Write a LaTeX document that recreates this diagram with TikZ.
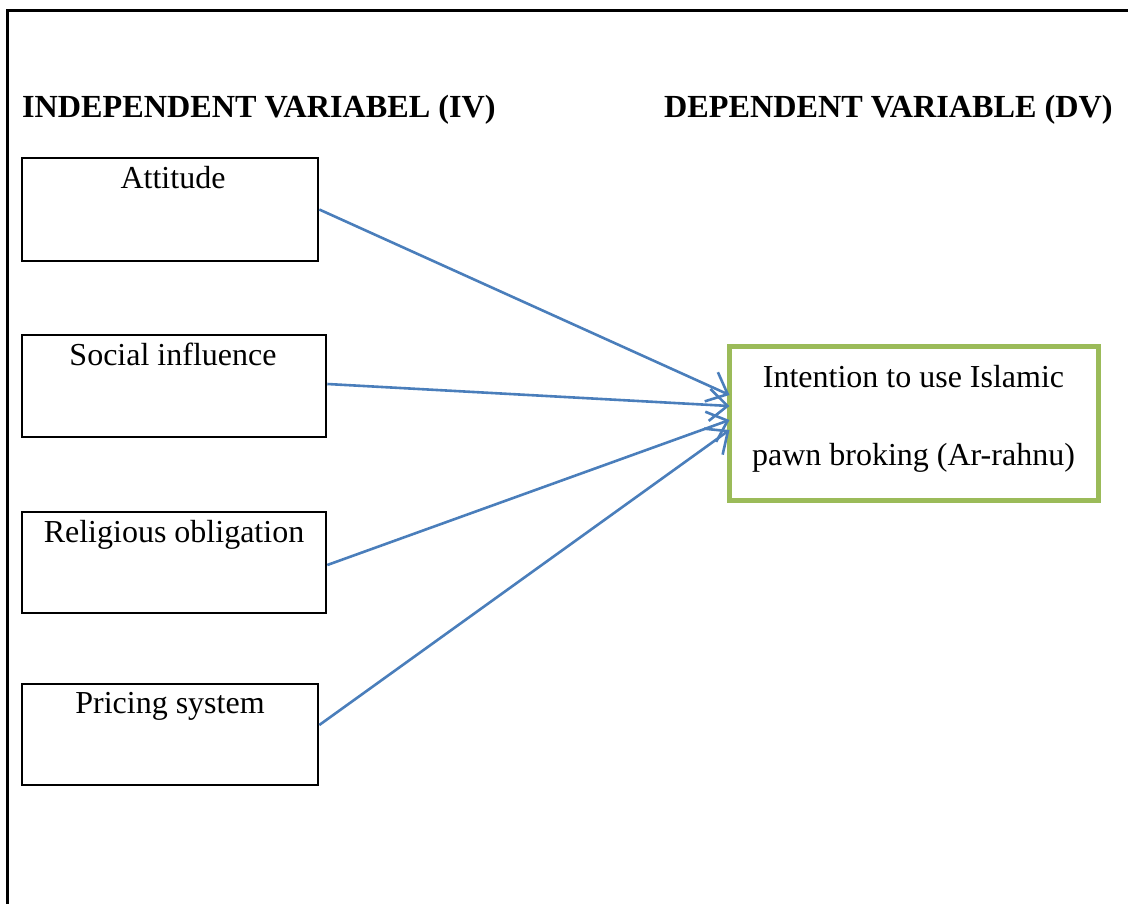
\documentclass[tikz,border=0pt]{standalone}
\usepackage{fontspec}
\setmainfont{Liberation Serif}
\usetikzlibrary{arrows.meta,calc}
\definecolor{arrblue}{HTML}{4A7EBB}
\definecolor{dvgreen}{HTML}{9BBB59}
\tikzset{
  ivbox/.style={draw=black, line width=2.6pt, rectangle, inner sep=0pt},
  dvbox/.style={draw=dvgreen, line width=5pt, rectangle, inner sep=0pt},
  lbl/.style={anchor=base, inner sep=0pt, font=\fontsize{32}{38}\selectfont},
  hdr/.style={anchor=base west, inner sep=0pt, font=\fontsize{32.2}{38}\selectfont\bfseries},
  arr/.style={draw=arrblue, line width=2.6pt, -{Straight Barb[length=18pt,width=32pt,line width=2.6pt]}},
  frame/.style={draw=black, line width=3pt}
}
\begin{document}
\begin{tikzpicture}[x=1pt,y=-1pt]
\useasboundingbox (0,0) rectangle (1128,903);
% outer frame
\coordinate (fbl) at (7,905);
\coordinate (ftl) at (7,10);
\coordinate (ftr) at (1130,10);
\draw[frame] (fbl) -- (ftl) -- (ftr);
% headers
\node[hdr] (hiv) at (22,117) {INDEPENDENT VARIABEL (IV)};
\node[hdr] (hdv) at (664,117) {DEPENDENT VARIABLE (DV)};
% IV boxes
\node[ivbox, minimum width=296pt, minimum height=103pt] (att) at (170,209.5) {};
\node[ivbox, minimum width=304pt, minimum height=102pt] (soc) at (174,386) {};
\node[ivbox, minimum width=304pt, minimum height=101pt] (rel) at (174,562.5) {};
\node[ivbox, minimum width=296pt, minimum height=101pt] (pri) at (170,734.5) {};
\node[lbl] (tatt) at (173,188) {Attitude};
\node[lbl] (tsoc) at (173,365) {Social influence};
\node[lbl] (trel) at (174,542) {Religious obligation};
\node[lbl] (tpri) at (170,713) {Pricing system};
% DV box
\node[dvbox, minimum width=369pt, minimum height=154pt] (dv) at (913.5,423) {};
\node[lbl] (tdv1) at (913.5,387) {Intention to use Islamic};
\node[lbl] (tdv2) at (913.5,465) {pawn broking (Ar-rahnu)};
% arrows
\draw[arr] (att.east) -- ($(dv.west)+(3,-28)$);
\draw[arr] ($(soc.east)+(0,-2)$) -- ($(dv.west)+(3,-17)$);
\draw[arr] ($(rel.east)+(0,2.5)$) -- ($(dv.west)+(3,-3)$);
\draw[arr] ($(pri.east)+(0,-9.5)$) -- ($(dv.west)+(3,7)$);
\end{tikzpicture}
\end{document}
